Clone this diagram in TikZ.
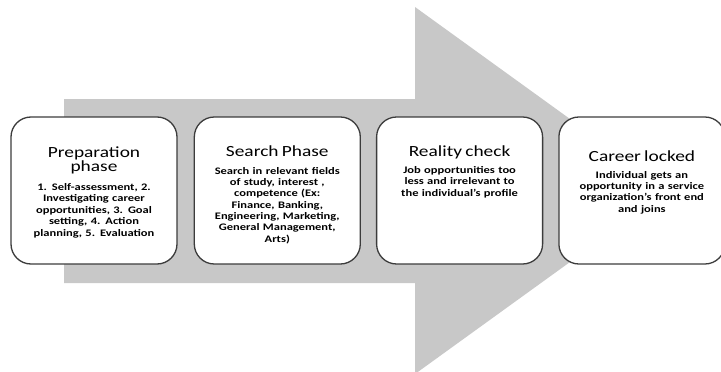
\documentclass[tikz,border=0pt]{standalone}
\usepackage{fontspec}
\setmainfont{Carlito}
\newfontfamily\titlefam[FakeStretch=1.25]{Carlito}
\newfontfamily\bodyfam[FakeStretch=1.25]{Carlito}
\usepackage{tikz}
\usetikzlibrary{positioning}
\definecolor{arrowgrey}{RGB}{200,200,200}
\definecolor{edgegrey}{RGB}{60,60,60}
\def\titlefont{\titlefam\fontsize{15.5}{16}\selectfont}
\def\bodyfont{\bodyfam\bfseries\fontsize{10}{11.2}\selectfont}
\tikzstyle{stage} = [rectangle, rounded corners=20pt, draw=edgegrey, line width=1.3pt, fill=white, minimum width=166pt, minimum height=147pt, inner sep=0pt]
\tikzstyle{stagetext} = [anchor=north, align=center, text width=160pt, inner sep=0pt, text=black]

\begin{document}
\begin{tikzpicture}[x=1pt, y=-1pt]
  \useasboundingbox (0,0) rectangle (721,372);
  \clip (0,0) rectangle (721,372);

  % big grey arrow behind the stages
  \fill[arrowgrey] (64,99) -- (415,99) -- (415,7) -- (669,190.5) -- (415,374) -- (415,283) -- (64,283) -- cycle;

  \node (prep) [stage] at (94,190.5) {};
  \node (search) [stage, right=16pt of prep] {};
  \node (reality) [stage, right=15pt of search] {};
  \node (locked) [stage, right=15pt of reality] {};

  \node (preptxt) [stagetext] at ([yshift=-30pt]prep.north) {{\titlefont Preparation\\ phase}\\[8pt]
    \bodyfont 1. Self-assessment, 2.\\ Investigating career\\ opportunities, 3. Goal\\ setting, 4. Action\\ planning, 5. Evaluation};
  \node (searchtxt) [stagetext] at ([yshift=-29pt]search.north) {{\titlefont Search Phase}\\[7pt]
    \bodyfont Search in relevant fields\\ of study, interest ,\\ competence (Ex:\\ Finance, Banking,\\ Engineering, Marketing,\\ General Management,\\ Arts)};
  \node (realitytxt) [stagetext] at ([yshift=-29pt]reality.north) {{\titlefont Reality check}\\[6pt]
    \bodyfont Job opportunities too\\ less and irrelevant to\\ the individual’s profile};
  \node (lockedtxt) [stagetext] at ([yshift=-34pt]locked.north) {{\titlefont Career locked}\\[6pt]
    \bodyfont Individual gets an\\ opportunity in a service\\ organization’s front end\\ and joins};

\end{tikzpicture}
\end{document}
